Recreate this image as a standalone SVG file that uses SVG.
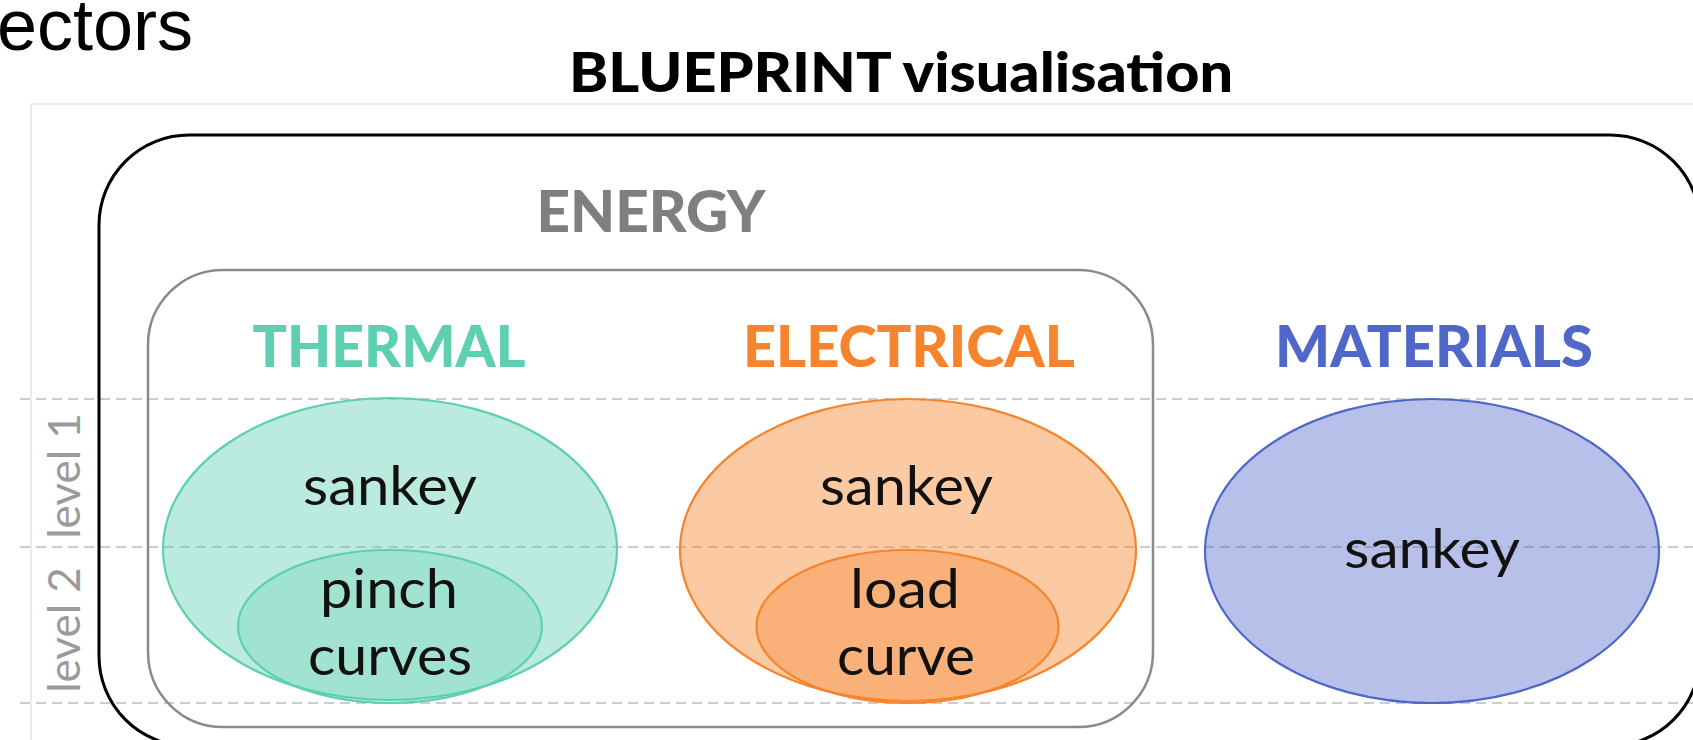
<svg xmlns="http://www.w3.org/2000/svg" width="1693" height="740" viewBox="0 0 1693 740">
<style>
.head{font-family:Lato,"Liberation Sans",sans-serif;font-weight:900;text-anchor:middle}
.lbl{font-family:Lato,"Liberation Sans",sans-serif;font-weight:400;font-size:55px;fill:#111;text-anchor:middle}
.lvl{font-family:Lato,"Liberation Sans",sans-serif;font-weight:400;font-size:44px;fill:#9a9a9a;text-anchor:middle}
.dash{stroke:#cccccc;stroke-width:2;stroke-dasharray:10 6;fill:none}
.teal{stroke:#5ecfb0;stroke-width:2.2;fill:#5ecfb0}
.orange{stroke:#f7842c;stroke-width:2.2;fill:#f7842c}
.blue{stroke:#4f67c9;stroke-width:2.2;fill:#4f67c9}
</style>
<rect width="1693" height="740" fill="#ffffff"/>
<g id="page">
  <text x="-3" y="50" font-family="'Liberation Sans',sans-serif" font-size="72" fill="#000">ectors</text>
  <text x="901" y="92" class="head" font-size="55" fill="#000" textLength="664" lengthAdjust="spacingAndGlyphs">BLUEPRINT visualisation</text>
  <path d="M31 740 V104 H1693" fill="none" stroke="#e6e6e6" stroke-width="1.5"/>
</g>
<g id="levels">
  <line class="dash" x1="20" y1="399" x2="1693" y2="399"/>
  <line class="dash" x1="20" y1="547" x2="1693" y2="547"/>
  <line class="dash" x1="20" y1="703" x2="1693" y2="703"/>
  <text class="lvl" x="80" y="476" transform="rotate(-90 80 476)">level 1</text>
  <text class="lvl" x="80" y="630" transform="rotate(-90 80 630)">level 2</text>
</g>
<g id="outer">
  <rect x="99" y="135" width="1601" height="611" rx="90" ry="90" fill="none" stroke="#000" stroke-width="3"/>
</g>
<g id="energy">
  <rect x="148" y="270" width="1005" height="457" rx="75" ry="75" fill="none" stroke="#8a8a8a" stroke-width="2.5"/>
  <text class="head" x="651" y="232" font-size="57" fill="#7f7f7f" textLength="229" lengthAdjust="spacingAndGlyphs">ENERGY</text>
</g>
<g id="thermal">
  <text class="head" x="389" y="367" font-size="58" fill="#5ecfb0" textLength="273" lengthAdjust="spacingAndGlyphs">THERMAL</text>
  <ellipse class="teal" cx="390" cy="549" rx="227" ry="151" fill-opacity="0.42"/>
  <ellipse class="teal" cx="390" cy="626.5" rx="152" ry="76.5" fill-opacity="0.28"/>
  <text class="lbl" x="390" y="505" textLength="174" lengthAdjust="spacingAndGlyphs">sankey</text>
  <text class="lbl" x="389" y="608" textLength="138" lengthAdjust="spacingAndGlyphs">pinch</text>
  <text class="lbl" x="390" y="675" textLength="164" lengthAdjust="spacingAndGlyphs">curves</text>
</g>
<g id="electrical">
  <text class="head" x="909" y="367" font-size="58" fill="#f7842c" textLength="332" lengthAdjust="spacingAndGlyphs">ELECTRICAL</text>
  <ellipse class="orange" cx="908" cy="550" rx="228" ry="151" fill-opacity="0.44"/>
  <ellipse class="orange" cx="907.5" cy="626.5" rx="151" ry="76.5" fill-opacity="0.34"/>
  <text class="lbl" x="906.5" y="505" textLength="173" lengthAdjust="spacingAndGlyphs">sankey</text>
  <text class="lbl" x="905" y="608" textLength="110" lengthAdjust="spacingAndGlyphs">load</text>
  <text class="lbl" x="906" y="675" textLength="138" lengthAdjust="spacingAndGlyphs">curve</text>
</g>
<g id="materials">
  <text class="head" x="1434" y="367" font-size="58" fill="#4f67c9" textLength="318" lengthAdjust="spacingAndGlyphs">MATERIALS</text>
  <ellipse class="blue" cx="1432" cy="551" rx="227" ry="152" fill-opacity="0.41"/>
  <text class="lbl" x="1432" y="568" textLength="176" lengthAdjust="spacingAndGlyphs">sankey</text>
</g>
</svg>
